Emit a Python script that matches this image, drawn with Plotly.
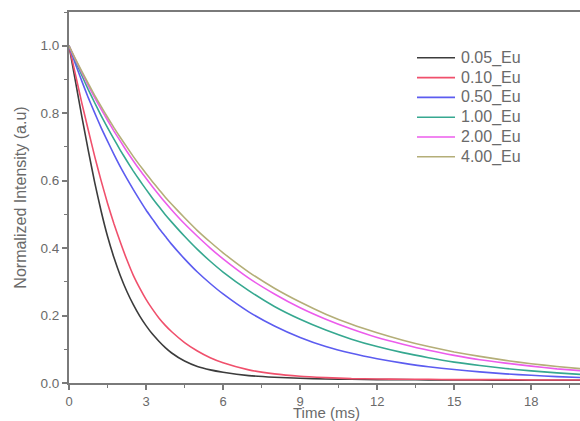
import plotly.graph_objects as go

# Decay time axis (ms)
time_ms = [0, 0.25, 0.5, 0.75, 1, 1.25, 1.5, 1.75, 2, 2.25, 2.5, 2.75, 3, 3.25,
           3.5, 3.75, 4, 4.5, 5, 5.5, 6, 7, 8, 9, 10, 11, 12, 13, 14, 15, 16,
           17, 18, 19, 20]

# Normalized luminescence intensity for each Eu concentration
eu_005 = [1.0, 0.895, 0.79, 0.69, 0.595, 0.51, 0.435, 0.372, 0.318, 0.272,
          0.233, 0.199, 0.170, 0.145, 0.124, 0.105, 0.089, 0.065, 0.049, 0.039,
          0.032, 0.022, 0.017, 0.014, 0.012, 0.011, 0.010, 0.010, 0.009, 0.009,
          0.009, 0.008, 0.008, 0.008, 0.008]
eu_010 = [1.0, 0.915, 0.83, 0.75, 0.672, 0.60, 0.533, 0.472, 0.417, 0.366,
          0.320, 0.282, 0.248, 0.219, 0.193, 0.171, 0.152, 0.120, 0.095, 0.075,
          0.060, 0.039, 0.027, 0.020, 0.016, 0.013, 0.012, 0.011, 0.011, 0.010,
          0.010, 0.010, 0.009, 0.009, 0.009]
eu_050 = [1.0, 0.946, 0.895, 0.846, 0.801, 0.757, 0.717, 0.678, 0.641, 0.607,
          0.574, 0.543, 0.513, 0.486, 0.459, 0.435, 0.411, 0.368, 0.329, 0.295,
          0.264, 0.211, 0.169, 0.135, 0.108, 0.088, 0.072, 0.059, 0.048, 0.040,
          0.033, 0.027, 0.023, 0.019, 0.016]
eu_100 = [1.0, 0.955, 0.912, 0.870, 0.831, 0.793, 0.757, 0.723, 0.690, 0.659,
          0.629, 0.601, 0.574, 0.548, 0.523, 0.499, 0.477, 0.435, 0.396, 0.361,
          0.329, 0.274, 0.227, 0.189, 0.157, 0.130, 0.108, 0.090, 0.075, 0.062,
          0.052, 0.043, 0.036, 0.030, 0.025]
eu_200 = [1.0, 0.959, 0.920, 0.882, 0.846, 0.812, 0.779, 0.747, 0.717, 0.687,
          0.659, 0.632, 0.607, 0.582, 0.558, 0.535, 0.513, 0.472, 0.435, 0.400,
          0.368, 0.311, 0.264, 0.223, 0.189, 0.160, 0.135, 0.115, 0.097, 0.082,
          0.069, 0.059, 0.050, 0.042, 0.036]
eu_400 = [1.0, 0.961, 0.924, 0.888, 0.853, 0.820, 0.788, 0.757, 0.728, 0.700,
          0.672, 0.646, 0.621, 0.597, 0.574, 0.551, 0.530, 0.490, 0.452, 0.418,
          0.386, 0.329, 0.281, 0.240, 0.204, 0.174, 0.149, 0.127, 0.108, 0.092,
          0.079, 0.067, 0.057, 0.049, 0.042]

series_names = ["0.05_Eu", "0.10_Eu", "0.50_Eu", "1.00_Eu", "2.00_Eu", "4.00_Eu"]
series_values = [eu_005, eu_010, eu_050, eu_100, eu_200, eu_400]
series_colors = ["#3c3c3c", "#f0506c", "#5c5cf0", "#36a890", "#ec5cec", "#b4ae78"]

x_ticks = [0, 3, 6, 9, 12, 15, 18]
y_ticks = [0.0, 0.2, 0.4, 0.6, 0.8, 1.0]

FONT = "Liberation Sans, Arial, sans-serif"
AXIS_GRAY = "#7a7a7a"
TEXT_GRAY = "#6a6a6a"

W, H = 580, 421
M_L, M_R, M_T, M_B = 69, 0, 12, 38
PLOT_W = W - M_L - M_R
PLOT_H = H - M_T - M_B


def to_paper(px, py):
    """Pixel position on the page -> paper coordinates of the plot area."""
    return (px - M_L) / PLOT_W, (H - M_B - py) / PLOT_H


fig = go.Figure()
for name, vals, color in zip(series_names, series_values, series_colors):
    fig.add_trace(go.Scatter(
        x=time_ms, y=vals, name=name, mode="lines", showlegend=False,
        line=dict(color=color, width=1.6, shape="spline", smoothing=0.5),
    ))

# Legend block in the upper right: a short line sample followed by the label
shapes, annotations = [], []
for i, (name, color) in enumerate(zip(series_names, series_colors)):
    row_y = 57.8 + i * 19.8
    x0, y0 = to_paper(417, row_y)
    x1, _ = to_paper(455, row_y)
    xt, _ = to_paper(459, row_y)
    shapes.append(dict(type="line", xref="paper", yref="paper",
                       x0=x0, x1=x1, y0=y0, y1=y0,
                       line=dict(color=color, width=1.6)))
    annotations.append(dict(xref="paper", yref="paper", x=xt, y=y0,
                            xanchor="left", yanchor="middle", showarrow=False,
                            text=name, font=dict(size=16, color=TEXT_GRAY,
                                                 family=FONT)))

# x-axis title, sitting just above the bottom edge of the page
tx, ty = to_paper(326, 412.5)
annotations.append(dict(xref="paper", yref="paper", x=tx, y=ty,
                        xanchor="center", yanchor="middle", showarrow=False,
                        text="Time (ms)",
                        font=dict(size=15, color=TEXT_GRAY, family=FONT)))

fig.update_layout(
    width=W, height=H,
    margin=dict(l=M_L, r=M_R, t=M_T, b=M_B, autoexpand=False),
    paper_bgcolor="white", plot_bgcolor="white",
    font=dict(family=FONT, color=TEXT_GRAY),
    showlegend=False,
    shapes=shapes, annotations=annotations,
    xaxis=dict(
        range=[0, 19.9], tickvals=x_ticks, ticktext=[str(v) for v in x_ticks],
        automargin=False,
        showgrid=False, zeroline=False,
        showline=True, linecolor=AXIS_GRAY, linewidth=2, mirror=True,
        ticks="outside", ticklen=5, tickwidth=1.5, tickcolor=AXIS_GRAY,
        tickfont=dict(size=13, color=TEXT_GRAY),
        minor=dict(dtick=1.5, tick0=0, ticks="outside", ticklen=3,
                   tickwidth=1.2, tickcolor=AXIS_GRAY),
    ),
    yaxis=dict(
        range=[0, 1.1], tickvals=y_ticks, ticktext=[f"{v:.1f}" for v in y_ticks],
        automargin=False,
        showgrid=False, zeroline=False,
        showline=True, linecolor=AXIS_GRAY, linewidth=2,
        ticks="outside", ticklen=5, tickwidth=1.5, tickcolor=AXIS_GRAY,
        tickfont=dict(size=13.5, color=TEXT_GRAY),
        minor=dict(dtick=0.1, tick0=0, ticks="outside", ticklen=3,
                   tickwidth=1.2, tickcolor=AXIS_GRAY),
        title=dict(text="Normalized Intensity (a.u)",
                   font=dict(size=16, color=TEXT_GRAY), standoff=10),
    ),
)

fig.write_html("out.html")
